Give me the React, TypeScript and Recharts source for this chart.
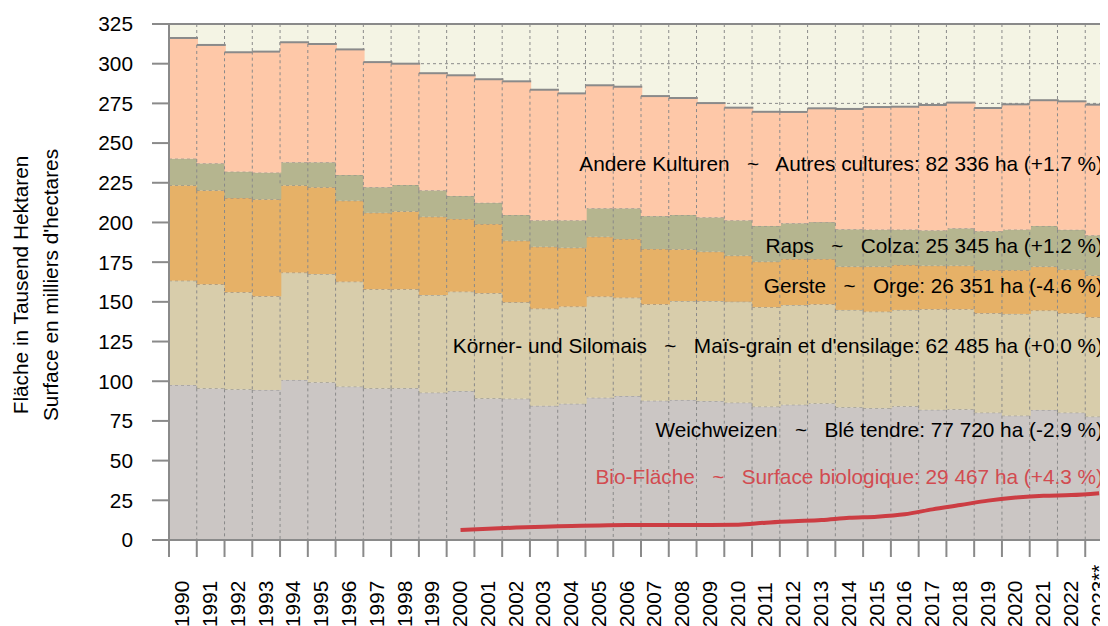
import React from 'react';
import { ComposedChart, Bar, Line, XAxis, YAxis, CartesianGrid, ReferenceLine } from 'recharts';

const years = ['1990','1991','1992','1993','1994','1995','1996','1997','1998','1999','2000','2001','2002','2003','2004','2005','2006','2007','2008','2009','2010','2011','2012','2013','2014','2015','2016','2017','2018','2019','2020','2021','2022','2023**'];
const weichweizen = [97.6,95.5,94.9,94.5,100.8,99.3,96.6,95.5,95.6,92.8,93.8,89.2,89.0,84.5,85.8,89.6,90.7,87.7,88.2,87.5,86.5,84.0,85.2,86.0,83.6,83.0,84.2,82.0,82.3,80.2,78.3,81.9,80.2,77.7];
const mais = [65.7,65.5,61.1,59.0,67.6,68.2,66.1,62.4,62.3,61.5,62.6,66.2,60.7,61.2,61.2,63.7,61.9,60.7,62.3,63.0,63.6,62.6,62.8,62.4,61.3,60.8,60.7,63.3,63.0,62.6,64.1,62.6,62.5,62.5];
const gerste = [60.1,59.2,59.4,61.1,55.0,54.7,51.0,48.2,49.1,49.3,45.8,43.6,38.8,39.0,37.1,37.7,37.0,34.9,32.6,31.1,29.0,28.7,29.0,28.6,27.3,28.4,28.3,27.5,27.5,27.2,27.6,27.7,27.6,26.4];
const raps = [16.8,17.0,16.6,16.8,14.5,15.7,16.2,16.1,16.6,16.6,14.5,13.4,16.2,16.6,17.2,17.9,19.3,20.7,21.6,21.6,22.2,22.5,22.5,23.2,23.5,23.3,22.3,22.2,23.5,24.5,25.5,25.6,25.1,25.3];
const andere = [76.0,74.6,75.2,76.2,75.6,74.5,79.1,78.8,76.4,73.8,76.0,77.8,84.2,82.3,80.0,77.5,76.6,75.6,73.7,72.0,71.0,71.9,70.1,71.7,75.8,77.2,77.4,79.0,79.2,77.6,78.9,79.2,80.9,82.3];
const bio = [null,null,null,null,null,null,null,null,null,null,6.3,7.1,7.8,8.4,8.8,9.2,9.4,9.4,9.4,9.5,9.6,10.9,11.8,12.6,14.0,14.7,16.2,19.3,22.0,24.8,26.7,27.9,28.3,29.5];
const yTicks = [0,25,50,75,100,125,150,175,200,225,250,275,300,325];

const labelTexts = [
  'Andere Kulturen   ~   Autres cultures: 82 336 ha (+1.7 %)',
  'Raps   ~   Colza: 25 345 ha (+1.2 %)',
  'Gerste   ~   Orge: 26 351 ha (-4.6 %)',
  'Körner- und Silomais   ~   Maïs-grain et d\'ensilage: 62 485 ha (+0.0 %)',
  'Weichweizen   ~   Blé tendre: 77 720 ha (-2.9 %)',
  'Bio-Fläche   ~   Surface biologique: 29 467 ha (+4.3 %)',
];
const labelLevels = [237.4, 185.8, 160.6, 122.2, 69.3, 40.3];
const labelColors = ['#000', '#000', '#000', '#000', '#000', '#d24b50'];

const data = years.map((year, i) => ({
  year,
  weichweizen: weichweizen[i],
  mais: mais[i],
  gerste: gerste[i],
  raps: raps[i],
  andere: andere[i],
  bio: bio[i],
}));

const FONT = '"Liberation Sans", Arial, Helvetica, sans-serif';
const FS = 20.8;
const AXIS = '#8a8a8a';

const Seg = (props: any) => {
  const { x, y, width, height, fill, solidTop } = props;
  if (width == null || height == null) return null;
  return (
    <g>
      <rect x={x} y={y} width={width + 1} height={height} fill={fill} />
      <line x1={x} y1={y} x2={x} y2={y + height} stroke={AXIS} strokeWidth={1} strokeDasharray="3 3" />
      <line
        x1={x}
        y1={y}
        x2={x + width + 1}
        y2={y}
        stroke={AXIS}
        strokeWidth={solidTop ? 2 : 1}
        strokeDasharray={solidTop ? undefined : '3 3'}
      />
    </g>
  );
};

const XTick = (props: any) => {
  const { x, y, payload } = props;
  const half = payload && payload.offset != null ? payload.offset : 0;
  return (
    <g>
      <line x1={x - half} y1={y} x2={x - half} y2={y + 17} stroke={AXIS} strokeWidth={2} />
      <text
        transform={`translate(${x - 1},${y + 87}) rotate(-90)`}
        textAnchor="start"
        dominantBaseline="central"
        fontSize={FS}
        fill="#000"
        fontFamily={FONT}
      >
        {payload.value}
      </text>
    </g>
  );
};

const vGen = (props: any) => {
  const { offset } = props;
  const n = years.length;
  return Array.from({ length: n + 1 }, (_, i) => offset.left + (i * offset.width) / n);
};

const YLabel = (props: any) => {
  const vb = props.viewBox || { x: 0, y: 16, width: 161, height: 516 };
  const cy = vb.y + vb.height / 2 + 3;
  return (
    <g>
      <text
        transform={`translate(${vb.x + 12},${cy}) rotate(-90)`}
        textAnchor="middle"
        dominantBaseline="central"
        fontSize={FS}
        fill="#000"
        fontFamily={FONT}
      >
        Fläche in Tausend Hektaren
      </text>
      <text
        transform={`translate(${vb.x + 42},${cy}) rotate(-90)`}
        textAnchor="middle"
        dominantBaseline="central"
        fontSize={FS}
        fill="#000"
        fontFamily={FONT}
      >
        Surface en milliers d'hectares
      </text>
    </g>
  );
};

const makeLabel = (text: string, color: string) => (props: any) => {
  const vb = props.viewBox;
  if (!vb) return null;
  return (
    <text
      x={vb.x + vb.width - 10}
      y={vb.y}
      textAnchor="end"
      dominantBaseline="central"
      fontSize={FS}
      fill={color}
      fontFamily={FONT}
      style={{ whiteSpace: 'pre' }}
      xmlSpace="preserve"
    >
      {text}
    </text>
  );
};

export default function App() {
  return (
    <div style={{ width: 1100, height: 618, overflow: 'hidden' }}>
      <ComposedChart
        width={1110}
        height={618}
        data={data}
        margin={{ top: 16, right: 5, left: 0, bottom: 0 }}
        barCategoryGap={0}
        barGap={0}
        style={{ fontFamily: FONT }}
      >
        <CartesianGrid
          fill="#f4f4e4"
          stroke={AXIS}
          strokeDasharray="3 3"
          horizontal={true}
          vertical={true}
          verticalCoordinatesGenerator={vGen}
        />
        <XAxis
          dataKey="year"
          interval={0}
          height={86}
          tickLine={false}
          tickSize={0}
          tickMargin={0}
          axisLine={{ stroke: AXIS, strokeWidth: 2 }}
          tick={<XTick />}
        />
        <YAxis
          type="number"
          domain={[0, 325]}
          ticks={yTicks}
          width={161}
          tickSize={17}
          tickMargin={19}
          interval={0}
          axisLine={{ stroke: AXIS, strokeWidth: 2 }}
          tickLine={{ stroke: AXIS, strokeWidth: 2 }}
          tick={{ fill: '#000', fontSize: FS, fontFamily: FONT }}
          label={(p: any) => <YLabel {...p} />}
          allowDataOverflow
        />
        <Bar dataKey="weichweizen" stackId="a" fill="#cbc6c4" isAnimationActive={false} shape={(p: any) => <Seg {...p} />} />
        <Bar dataKey="mais" stackId="a" fill="#d8cdab" isAnimationActive={false} shape={(p: any) => <Seg {...p} />} />
        <Bar dataKey="gerste" stackId="a" fill="#e6b167" isAnimationActive={false} shape={(p: any) => <Seg {...p} />} />
        <Bar dataKey="raps" stackId="a" fill="#b5b58f" isAnimationActive={false} shape={(p: any) => <Seg {...p} />} />
        <Bar dataKey="andere" stackId="a" fill="#fec8a8" isAnimationActive={false} shape={(p: any) => <Seg {...p} solidTop />} />
        <Line
          dataKey="bio"
          type="monotone"
          stroke="#cc3d43"
          strokeWidth={4}
          dot={false}
          activeDot={false}
          connectNulls={false}
          isAnimationActive={false}
        />
        <ReferenceLine y={325} stroke={AXIS} strokeWidth={2} />
        {labelTexts.map((t, i) => (
          <ReferenceLine
            key={t}
            y={labelLevels[i]}
            stroke="none"
            label={makeLabel(t, labelColors[i])}
          />
        ))}
      </ComposedChart>
    </div>
  );
}
